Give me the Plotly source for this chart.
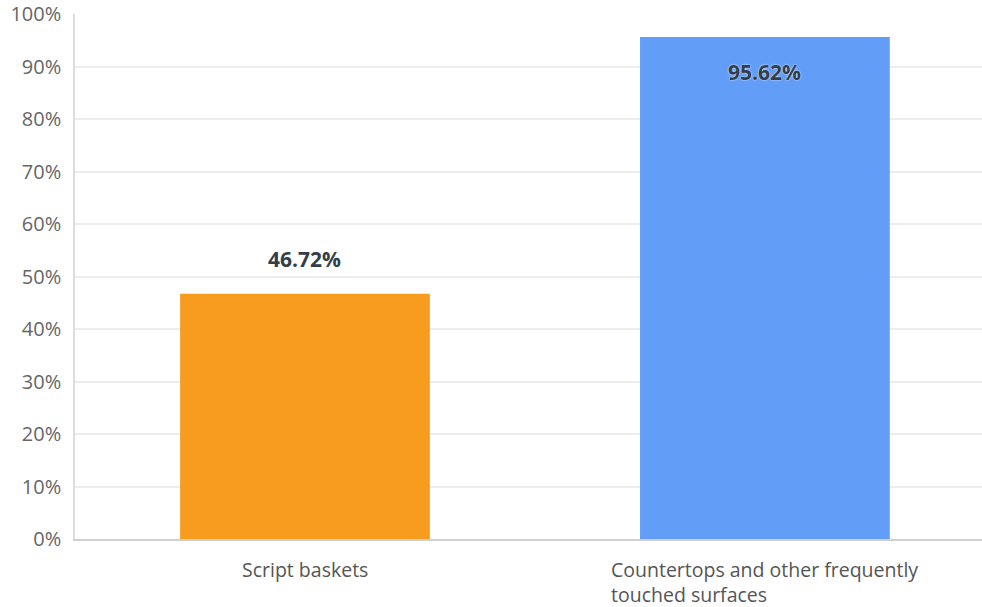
import plotly.graph_objects as go

categories = ["Script baskets", "Countertops and other frequently<br>touched surfaces"]
values = [46.72, 95.62]
colors = ["#F89C1F", "#629DF7"]
label_text = ["46.72%", "95.62%"]
label_shift = [35, -35]
tick_vals = [0, 10, 20, 30, 40, 50, 60, 70, 80, 90, 100]
tick_text = [f"{v}%" for v in tick_vals]

FONT = "Open Sans, sans-serif"

fig = go.Figure()
fig.add_trace(go.Bar(
    x=[0, 1], y=values, marker=dict(color=colors, line=dict(width=0)),
    width=0.543, hoverinfo="skip",
))

annotations = []
for i, (v, t, s) in enumerate(zip(values, label_text, label_shift)):
    annotations.append(dict(
        x=i, y=v, xref="x", yref="y", text=f"<b>{t}</b>", showarrow=False,
        yshift=s, font=dict(family=FONT, size=21, color="#333E48",
                            shadow="0px 0px 2px white" if s < 0 else "none"),
    ))
for i, c in enumerate(categories):
    annotations.append(dict(
        x=i, y=0, xref="x", yref="paper", yanchor="top", yshift=-15,
        text=c, showarrow=False, align="left",
        font=dict(family=FONT, size=19.5, color="#555555"),
    ))

fig.update_layout(
    width=982, height=607,
    margin=dict(l=75, r=0, t=10, b=68),
    plot_bgcolor="white", paper_bgcolor="white",
    showlegend=False,
    annotations=annotations,
    xaxis=dict(range=[-0.5, 1.472], showticklabels=False, showgrid=False,
               zeroline=False, showline=True, linecolor="#D0D0D0", linewidth=2,
               fixedrange=True),
    yaxis=dict(range=[0, 100], tickvals=tick_vals, ticktext=tick_text,
               showgrid=True, gridcolor="#EDEDED", gridwidth=1.5, zeroline=False,
               showline=True, linecolor="#DDDDDD", linewidth=1.5,
               ticklabelstandoff=8, ticklabeloverflow="allow",
               tickfont=dict(family=FONT, size=20, color="#666666")),
)

fig.write_html("out.html")
